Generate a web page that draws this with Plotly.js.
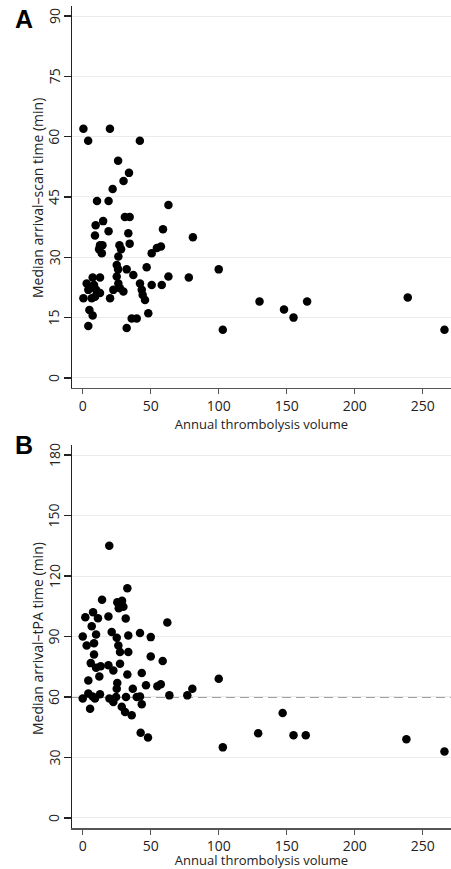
<!DOCTYPE html>
<html>
<head>
<meta charset="utf-8">
<script src="https://cdn.plot.ly/plotly-3.0.1.min.js"></script>
<style>html,body{margin:0;padding:0;background:#fff;}#chart{width:451px;height:869px;}</style>
</head>
<body>
<div id="chart"></div>
<script>
// Panel A: annual thrombolysis volume vs median arrival–scan time (min)
const volA = [0.5,20,4,42,26,34,30,22,10.5,19,63,31,34.5,15,9.5,59,19,9,33.5,81,
  12.7,14.5,12,14,27,28.2,34.5,54.5,57.5,50.7,26.2,25,26,32.3,47,37.2,25,63,78,100,
  7.3,12.7,2.9,8.3,4.1,9.8,12.7,0.5,6.6,9,20.1,22.5,27.4,29.9,26.2,42.1,43.4,44.1,45.8,50.7,58.1,
  4.9,7.3,4.1,36,39.7,48.2,32.3,
  130,148,155,165,239,266,103];
const scanA = [62,62,59,59,54,51,49,47,44,44,43,40,40,39,38,37,36.5,35.4,36,35,
  33,33,32,31,33,32,33.4,32.3,32.7,31,30.2,28.1,27,27,27.5,25.6,25.2,25.2,25,27,
  25,25,23.5,23.1,21.9,21.9,21.1,19.8,19.8,20.2,19.8,21.9,22.3,21.5,23.5,23.5,21.9,20.6,19.4,23.1,23.1,
  16.9,15.5,12.9,14.8,14.8,16.1,12.4,
  19,17,15,19,20,12,12];

// Panel B: annual thrombolysis volume vs median arrival–tPA time (min)
const volB = [19.5,32.8,14.2,25.4,28.9,29.9,26.5,7.6,1.9,11.2,18.9,31.6,62.2,6.6,21.3,9.8,0,33.5,42.1,50,
  25,2.9,8.3,26.2,27.4,33.5,8.3,50,58.8,5.9,9.8,13.2,18.9,27.4,22.5,12.2,4.1,32.8,43.4,25.4,
  25,36.8,46.5,54.9,57.4,0,4.1,7.3,12.7,19.6,24.5,31.8,39.7,42.1,63.7,5.4,28.7,31.1,36,43.4,
  22.5,9,42.6,48,76.9,80.6,100,103,129,147,155,164,238,266];
const tpaB = [135,114,108.3,107,107.8,104.8,104,102,99.6,99.1,99.9,98.9,97,95.1,92.2,91,90,90.5,91.7,89.7,
  89.4,85.6,86.7,85.6,82.3,82.3,81.1,80.1,77.8,76.8,74.5,75.2,75.7,76.5,73.2,70.2,68.2,71.2,71.9,66.9,
  64.1,64.1,65.8,65.3,66.3,59.2,61.7,60.3,61.3,59.2,60,60,60,60.3,60.8,54.2,55.1,52.6,50.9,56.4,
  57.5,59.2,42.2,39.9,60.8,64.1,69,35,42,52,41,41,39,33];

const xTicks = [0,50,100,150,200,250];
const yTicksA = [0,15,30,45,60,75,90];
const yTicksB = [0,30,60,90,120,150,180];
const refLineB = 60;
const titleA = 'Median arrival–scan time (min)';
const titleB = 'Median arrival–tPA time (min)';

const FONT = "Open Sans, Noto Sans, sans-serif";
const marker = {color:'#000', size:8.5, line:{width:0}};

const traces = [
  {type:'scatter', mode:'markers', x:volA, y:scanA, xaxis:'x', yaxis:'y', marker:marker, hoverinfo:'x+y'},
  {type:'scatter', mode:'markers', x:volB, y:tpaB, xaxis:'x2', yaxis:'y2', marker:marker, hoverinfo:'x+y'}
];

function xax(anchor, standoff){
  return {
    anchor: anchor, domain:[0,1], range:[-7.9,270.8],
    tickmode:'array', tickvals:xTicks, ticktext:xTicks.map(String),
    ticks:'outside', ticklen:5, tickwidth:1.3, tickcolor:'#555',
    showline:true, linecolor:'#555', linewidth:1.5,
    showgrid:false, zeroline:false,
    tickfont:{family:FONT, size:14, color:'#222'},
    title:{text:'Annual thrombolysis volume', font:{family:FONT, size:13, color:'#222'}, standoff:standoff},
    automargin:false
  };
}
function yax(anchor, dom, rng, vals){
  return {
    anchor: anchor, domain:dom, range:rng,
    tickmode:'array', tickvals:vals,
    showticklabels:false,
    ticks:'outside', ticklen:7, tickwidth:1.3, tickcolor:'#222',
    showline:true, linecolor:'#222', linewidth:1.5,
    showgrid:true, gridcolor:'#ebebeb', gridwidth:1, zeroline:false,
    automargin:false
  };
}

// pixel helpers for paper coordinates (plot area: x 72..451, y 6..828)
function px(x){ return (x-72)/379; }
function py(y){ return (828-y)/822; }

// rotated y tick labels (Stata style), tied to the y scales
function yLabels(vals, yref){
  return vals.map(v=>({text:String(v), xref:'paper', x:px(54), yref:yref, y:v,
    xanchor:'center', yanchor:'middle', textangle:-90, showarrow:false,
    font:{family:FONT, size:14, color:'#222'}}));
}

const annotations = []
  .concat(yLabels(yTicksA, 'y'))
  .concat(yLabels(yTicksB, 'y2'))
  .concat([
    {text:titleA, xref:'paper', x:px(37), yref:'paper', y:py(198), xanchor:'center', yanchor:'middle',
     textangle:-90, showarrow:false, font:{family:FONT, size:14, color:'#222'}},
    {text:titleB, xref:'paper', x:px(37), yref:'paper', y:py(639), xanchor:'center', yanchor:'middle',
     textangle:-90, showarrow:false, font:{family:FONT, size:14, color:'#222'}},
    {text:'<b>A</b>', xref:'paper', yref:'paper', x:px(23.5), y:py(19.5), xanchor:'center', yanchor:'middle',
     showarrow:false, font:{family:'Liberation Sans, Arial, sans-serif', size:25, color:'#000'}},
    {text:'<b>B</b>', xref:'paper', yref:'paper', x:px(24), y:py(445), xanchor:'center', yanchor:'middle',
     showarrow:false, font:{family:'Liberation Sans, Arial, sans-serif', size:25, color:'#000'}}
  ]);

const layout = {
  width:451, height:869,
  margin:{l:72, r:0, t:6, b:41},
  paper_bgcolor:'#fff', plot_bgcolor:'#fff',
  showlegend:false,
  font:{family:FONT, color:'#222'},
  xaxis: xax('y', 0),
  yaxis: yax('x', [0.5353,1], [-2.5,92.5], yTicksA),
  xaxis2: xax('y2', 6),
  yaxis2: yax('x2', [0,0.4659], [-5,185], yTicksB),
  shapes:[
    {type:'line', xref:'x2 domain', x0:0, x1:1, yref:'y2', y0:refLineB, y1:refLineB,
     line:{color:'#808080', width:1.5, dash:'9px,5px'}, layer:'below'}
  ],
  annotations: annotations
};

Plotly.newPlot('chart', traces, layout, {displayModeBar:false, staticPlot:true});
</script>
</body>
</html>
